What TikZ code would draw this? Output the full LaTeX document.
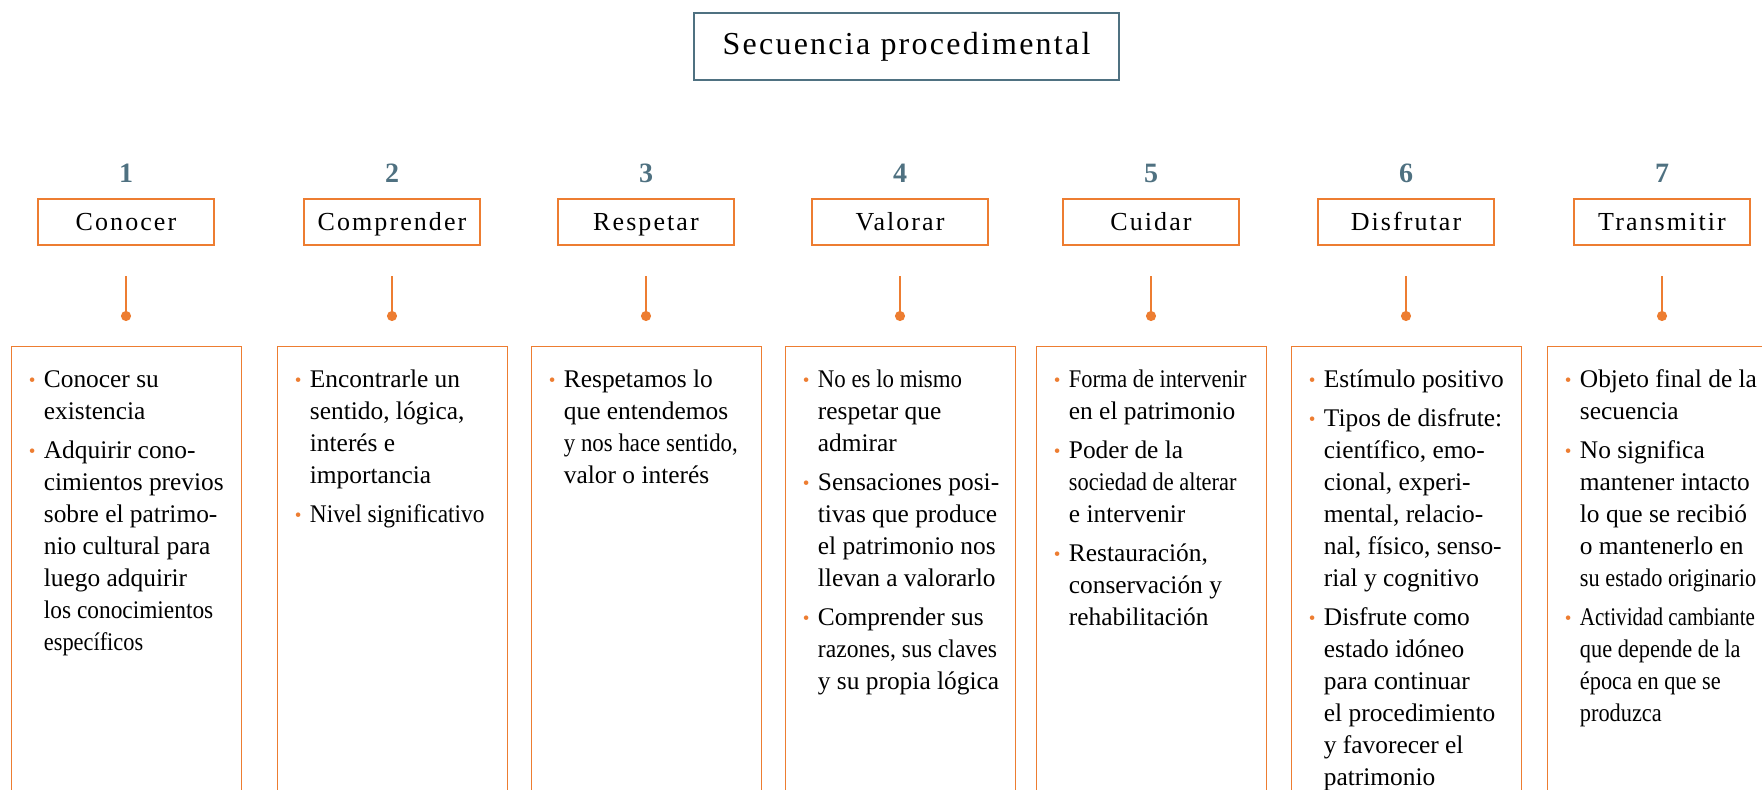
\documentclass[tikz,border=0pt]{standalone}
\usepackage{fontspec}
\usepackage{graphicx}
\usepackage{xcolor}
\usepackage{tikz}
\usetikzlibrary{arrows.meta}
\setmainfont{Liberation Serif}

\definecolor{accent}{HTML}{ED7D31}
\definecolor{slate}{HTML}{4F7181}

\newcommand\bul{\textcolor{accent}{\raisebox{0.03em}{\scalebox{0.75}{\textbullet}}}}
\newcommand\cnd[2][0.88]{\scalebox{#1}[1]{#2}}

\tikzset{
    title-box/.style = {draw=slate, line width=1.2pt, minimum width=212.5pt, minimum height=33.5pt, inner sep=0pt,
        text height=11pt, text depth=3pt, font=\fontsize{16}{18}\selectfont\addfontfeature{LetterSpace=7}},
    step-num/.style = {anchor=base, text=slate, inner sep=0pt, font=\fontsize{14}{16}\selectfont\bfseries},
    step-box/.style = {draw=accent, line width=0.8pt, minimum width=88pt, minimum height=23pt, inner sep=0pt,
        text height=10pt, text depth=2pt, font=\fontsize{13}{15}\selectfont\addfontfeature{LetterSpace=8}},
    detail-box/.style = {draw=accent, line width=0.5pt, anchor=north, minimum width=115pt, minimum height=250pt},
    detail-text/.style = {anchor=base west, inner sep=0pt, font=\fontsize{12.7}{16}\selectfont},
    stub-line/.style = {draw=accent, line width=1pt, -{Circle[length=5pt]}},
}

\begin{document}
\begin{tikzpicture}[x=0.5pt, y=-0.5pt]
\useasboundingbox (0,0) rectangle (1762,789);

\node[title-box] (title) at (906.5,46.5) {Secuencia procedimental};

% the seven steps
\foreach \cx/\word [count=\i] in {126/Conocer, 392/Comprender, 646/Respetar, 900/Valorar,
        1151/Cuidar, 1406/Disfrutar, 1662/Transmitir} {
    \node[step-num] (num-\i) at (\cx,182) {\i};
    \node[step-box] (step-\i) at (\cx,222) {\word};
    \coordinate (stub-top-\i) at (\cx,276);
    \coordinate (stub-end-\i) at (\cx,321);
    \draw[stub-line] (stub-top-\i) -- (stub-end-\i);
    \node[detail-box] (box-\i) at (\cx,346) {};
}

\node[detail-text] (txt-1) at ([xshift=9pt,yshift=-20.5pt]box-1.north west) {\begin{tabular}[t]{@{}p{7.5pt}@{}l@{}}
    \bul & Conocer su\\ & existencia\\[3.5pt]
    \bul & Adquirir cono-\\ & cimientos previos\\ & sobre el patrimo-\\ & nio cultural para\\ & luego adquirir\\
         & \cnd[0.92]{los conocimientos}\\ & \cnd{específicos}
\end{tabular}};

\node[detail-text] (txt-2) at ([xshift=9pt,yshift=-20.5pt]box-2.north west) {\begin{tabular}[t]{@{}p{7.5pt}@{}l@{}}
    \bul & Encontrarle un\\ & sentido, lógica,\\ & interés e\\ & importancia\\[3.5pt]
    \bul & \cnd[0.92]{Nivel significativo}
\end{tabular}};

\node[detail-text] (txt-3) at ([xshift=9pt,yshift=-20.5pt]box-3.north west) {\begin{tabular}[t]{@{}p{7.5pt}@{}l@{}}
    \bul & Respetamos lo\\ & que entendemos\\ & \cnd[0.9]{y nos hace sentido,}\\ & valor o interés
\end{tabular}};

\node[detail-text] (txt-4) at ([xshift=9pt,yshift=-20.5pt]box-4.north west) {\begin{tabular}[t]{@{}p{7.5pt}@{}l@{}}
    \bul & \cnd[0.9]{No es lo mismo}\\ & respetar que\\ & admirar\\[3.5pt]
    \bul & Sensaciones posi-\\ & tivas que produce\\ & el patrimonio nos\\ & llevan a valorarlo\\[3.5pt]
    \bul & Comprender sus\\ & \cnd[0.93]{razones, sus claves}\\ & y su propia lógica
\end{tabular}};

\node[detail-text] (txt-5) at ([xshift=9pt,yshift=-20.5pt]box-5.north west) {\begin{tabular}[t]{@{}p{7.5pt}@{}l@{}}
    \bul & \cnd{Forma de intervenir}\\ & en el patrimonio\\[3.5pt]
    \bul & Poder de la\\ & \cnd{sociedad de alterar}\\ & e intervenir\\[3.5pt]
    \bul & Restauración,\\ & conservación y\\ & rehabilitación
\end{tabular}};

\node[detail-text] (txt-6) at ([xshift=9pt,yshift=-20.5pt]box-6.north west) {\begin{tabular}[t]{@{}p{7.5pt}@{}l@{}}
    \bul & Estímulo positivo\\[3.5pt]
    \bul & Tipos de disfrute:\\ & científico, emo-\\ & cional, experi-\\ & mental, relacio-\\ & nal, físico, senso-\\ & rial y cognitivo\\[3.5pt]
    \bul & Disfrute como\\ & estado idóneo\\ & para continuar\\ & el procedimiento\\ & y favorecer el\\ & patrimonio
\end{tabular}};

\node[detail-text] (txt-7) at ([xshift=9pt,yshift=-20.5pt]box-7.north west) {\begin{tabular}[t]{@{}p{7.5pt}@{}l@{}}
    \bul & Objeto final de la\\ & secuencia\\[3.5pt]
    \bul & No significa\\ & mantener intacto\\ & lo que se recibió\\ & o mantenerlo en\\ & \cnd{su estado originario}\\[3.5pt]
    \bul & \cnd[0.83]{Actividad cambiante}\\ & \cnd{que depende de la}\\ & \cnd{época en que se}\\ & \cnd{produzca}
\end{tabular}};
\end{tikzpicture}
\end{document}
